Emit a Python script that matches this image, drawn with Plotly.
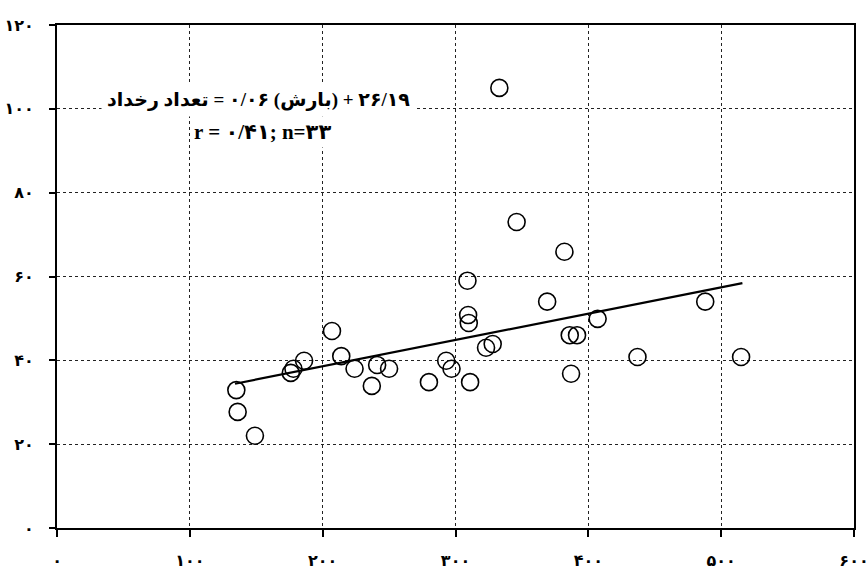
import plotly.graph_objects as go

# Data
rain = [135, 136, 149, 176, 178, 186, 207, 214, 224, 237, 241, 250, 280, 293,
        297, 309, 309.5, 310, 311, 323, 328, 333, 346, 369, 382, 386, 391.5,
        387, 407, 437, 488, 515]
events = [32.9, 27.7, 22, 37, 38, 39.9, 47, 41, 38, 33.9, 38.9, 38, 34.8, 39.9,
          38, 59, 50.8, 48.9, 34.8, 43, 43.9, 105, 73, 54, 65.9, 46, 46,
          36.8, 49.9, 40.8, 54, 40.8]

slope = 0.0628
intercept = 26.0
trend_x = [134, 516]
trend_y = [slope * v + intercept for v in trend_x]

x_ticks = [0, 100, 200, 300, 400, 500, 600]
x_ticktext = ["۰", "۱۰۰", "۲۰۰", "۳۰۰", "۴۰۰", "۵۰۰", "۶۰۰"]
y_ticks = [0, 20, 40, 60, 80, 100, 120]
y_ticktext = ["۰", "۲۰", "۴۰", "۶۰", "۸۰", "۱۰۰", "۱۲۰"]

LRM = "\u200E"
eq_text = "تعداد رخداد" + LRM + " = ۰/۰۶ (بارش" + LRM + ") + ۲۶/۱۹"
stat_text = "r = ۰/۴۱; n=۳۳"

FONT = "Liberation Serif, DejaVu Sans, serif"

fig = go.Figure()
fig.add_trace(go.Scatter(
    x=rain, y=events, mode="markers",
    marker=dict(symbol="circle-open", size=17, color="black",
                line=dict(width=1.6, color="black")),
    showlegend=False, hoverinfo="x+y"))
fig.add_trace(go.Scatter(
    x=trend_x, y=trend_y, mode="lines",
    line=dict(color="black", width=2.2), showlegend=False))

axis_common = dict(
    showline=True, linecolor="black", linewidth=2, mirror=True,
    showgrid=True, gridcolor="#222", gridwidth=1, griddash="dot",
    zeroline=False, ticks="outside", tickcolor="black", tickwidth=2,
    automargin=False, ticklabeloverflow="allow",
    tickfont=dict(family=FONT, size=16, color="black", weight="bold"),
)

fig.update_xaxes(range=[0, 600], tickvals=x_ticks, ticktext=x_ticktext,
                 ticklen=7, ticklabelstandoff=10, **axis_common)
fig.update_yaxes(range=[0, 120], tickvals=y_ticks, ticktext=y_ticktext,
                 ticklen=6, ticklabelstandoff=12, **axis_common)

fig.add_annotation(x=152, y=102.1, xref="x", yref="y", text=eq_text,
                   showarrow=False, bgcolor="white", borderpad=5,
                   font=dict(family=FONT, size=19, color="black", weight="bold"))
fig.add_annotation(x=155, y=94.5, xref="x", yref="y", text=stat_text,
                   showarrow=False, bgcolor="white", borderpad=3,
                   font=dict(family=FONT, size=21, color="black", weight="bold"))

fig.update_layout(
    width=866, height=572,
    margin=dict(l=57, r=12, t=25, b=44),
    plot_bgcolor="white", paper_bgcolor="white",
)

# remove the page's default body margin so the figure fills the window
fig.write_html("out.html",
               config={"displayModeBar": False},
               post_script="document.body.style.margin='0';"
                           "document.body.style.overflow='hidden';")
